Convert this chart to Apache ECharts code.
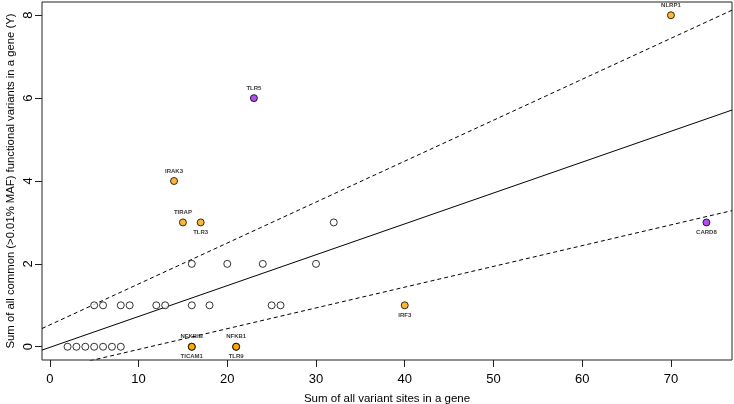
<!DOCTYPE html>
<html>
<head>
<meta charset="utf-8">
<script src="https://cdn.jsdelivr.net/npm/echarts@6/dist/echarts.min.js"></script>
<style>
html,body{margin:0;padding:0;background:#fff;}
#c{width:734px;height:404px;}
</style>
</head>
<body>
<div id="c"></div>
<script>
// Non-highlighted genes (open circles)
const openX = [2,3,4,5,6,7,8, 5,6,8,9,12,13,16,18,25,26, 16,20,24,30, 32];
const openY = [0,0,0,0,0,0,0, 1,1,1,1,1,1,1,1,1,1, 2,2,2,2, 3];

// Highlighted genes (orange)
const orangeNames = ["NLRP1","IRAK3","TIRAP","TLR3","IRF3","NFKBIB","TICAM1","NFKB1","TLR9"];
const orangeX = [70,14,15,17,40,16,16,21,21];
const orangeY = [8,4,3,3,1,0,0,0,0];
const orangeLabelPos = ["top","top","top","bottom","bottom","top","bottom","top","bottom"];

// Highlighted genes (purple)
const purpleNames = ["TLR5","CARD8"];
const purpleX = [23,74];
const purpleY = [6,3];
const purpleLabelPos = ["top","bottom"];

// Fitted line and band: [intercept, slope]
const fitLine = [-0.015, 0.0745];
const upperBand = [0.527, 0.0988];
const lowerBand = [-0.566, 0.0501];

const xRange = [-0.88, 76.88];
const yRange = [-0.32, 8.32];
const xTicks = [0,10,20,30,40,50,60,70];
const yTicks = [0,2,4,6,8];

function linePts(c){ return xRange.map(x => [x, c[0] + c[1]*x]); }
function pts(xs, ys){ return xs.map((x,i)=>[x, ys[i]]); }
function labeled(names, xs, ys, pos){
  return names.map((n,i)=>({name:n, value:[xs[i], ys[i]], label:{position:pos[i]}}));
}

const font = "Liberation Sans, Arial, Helvetica, sans-serif";
const chart = echarts.init(document.getElementById('c'), null, {renderer:'canvas'});
const ptLabel = {show:true, formatter:'{b}', fontSize:6, fontWeight:'bold', color:'#000', fontFamily:font, distance:3};

chart.setOption({
  animation:false,
  grid:{left:42, right:2, top:2, bottom:44, show:true, borderColor:'#222', borderWidth:1, backgroundColor:'transparent',
        containLabel:false, outerBoundsMode:'none'},
  xAxis:{
    type:'value', min:xRange[0], max:xRange[1],
    name:'Sum of all variant sites in a gene', nameLocation:'middle', nameGap:33, nameMoveOverlap:false,
    nameTextStyle:{fontSize:11.5, color:'#000', fontFamily:font},
    axisLine:{show:false, onZero:false},
    axisTick:{show:true, length:7, inside:false, lineStyle:{color:'#222'}, customValues:xTicks},
    axisLabel:{fontSize:13, color:'#000', fontFamily:font, margin:13, customValues:xTicks},
    splitLine:{show:false}
  },
  yAxis:{
    type:'value', min:yRange[0], max:yRange[1],
    name:'Sum of all common (>0.01% MAF) functional variants in a gene (Y)', nameLocation:'middle', nameGap:26, nameMoveOverlap:false,
    nameTextStyle:{fontSize:11.3, color:'#000', fontFamily:font},
    axisLine:{show:false, onZero:false},
    axisTick:{show:true, length:7, lineStyle:{color:'#222'}, customValues:yTicks},
    axisLabel:{fontSize:13, color:'#000', fontFamily:font, margin:7, rotate:90, customValues:yTicks},
    splitLine:{show:false}
  },
  series:[
    {type:'line', data:linePts(upperBand), symbol:'none', clip:true, lineStyle:{color:'#000', width:1, type:[4,3]}, z:1},
    {type:'line', data:linePts(fitLine), symbol:'none', clip:true, lineStyle:{color:'#000', width:1}, z:1},
    {type:'line', data:linePts(lowerBand), symbol:'none', clip:true, lineStyle:{color:'#000', width:1, type:[4,3]}, z:1},
    {type:'scatter', data:pts(openX, openY), symbol:'circle', symbolSize:7,
      itemStyle:{color:'#fff', borderColor:'#000', borderWidth:1}, z:3},
    {type:'scatter', data:labeled(orangeNames, orangeX, orangeY, orangeLabelPos), symbol:'circle', symbolSize:7,
      itemStyle:{color:'#FFA500', borderColor:'#000', borderWidth:1}, label:ptLabel, z:3},
    {type:'scatter', data:labeled(purpleNames, purpleX, purpleY, purpleLabelPos), symbol:'circle', symbolSize:7,
      itemStyle:{color:'#A020F0', borderColor:'#000', borderWidth:1}, label:ptLabel, z:3}
  ]
});
</script>
</body>
</html>
